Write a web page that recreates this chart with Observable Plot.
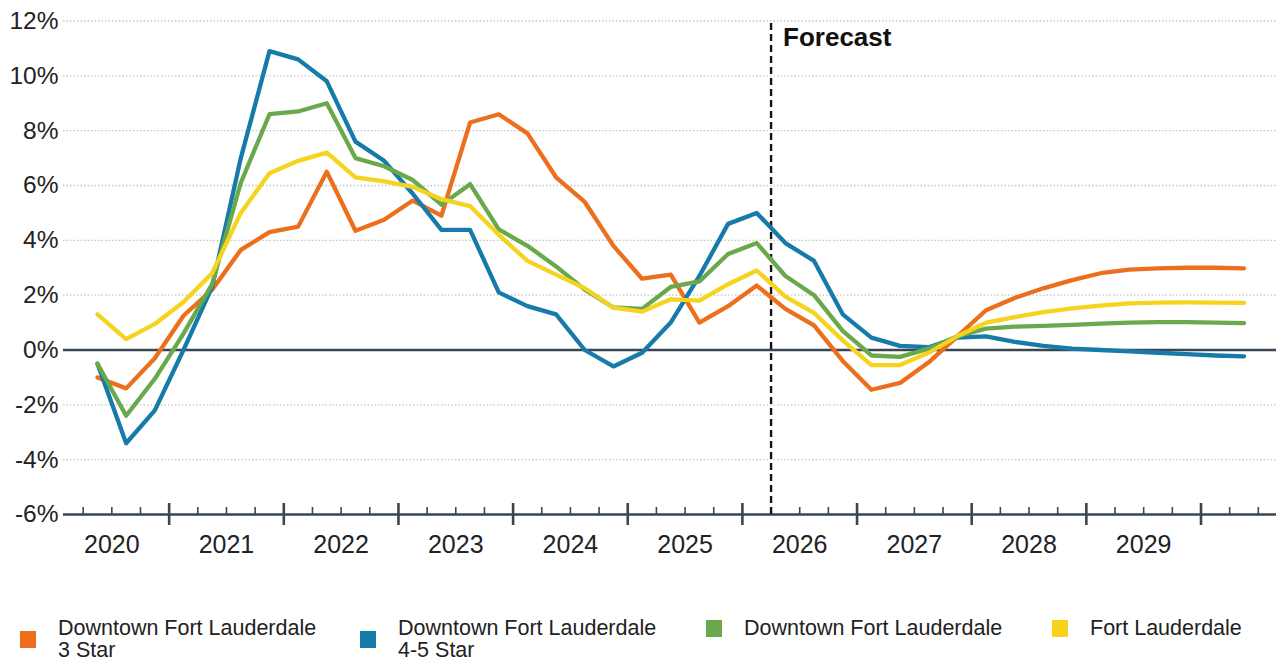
<!DOCTYPE html>
<html><head><meta charset="utf-8">
<script src="https://cdn.jsdelivr.net/npm/d3@7"></script>
<script src="https://cdn.jsdelivr.net/npm/@observablehq/plot@0.6"></script>
<style>
body{margin:0;background:#fff;font-family:"Liberation Sans",Arial,sans-serif;}
#wrap{position:relative;width:1281px;height:665px;overflow:hidden;}
#legend{position:absolute;left:0;top:617px;width:1281px;height:48px;}
.item{position:absolute;top:0;display:flex;align-items:center;}
.sw{width:16px;height:17px;margin-right:22px;flex:none;}
.lab{font-size:21.5px;line-height:22px;color:#222;}
</style></head><body><div id="wrap"><div id="chart"></div><div id="legend"></div></div>
<script>
// Quarterly periods: 2020 Q2 … 2030 Q2 (history through 2026 Q1, forecast after)
const firstYear = 2020, firstQuarter = 2, nPeriods = 41;
const seriesNames = ["Downtown Fort Lauderdale 3 Star", "Downtown Fort Lauderdale 4-5 Star", "Downtown Fort Lauderdale", "Fort Lauderdale"];
const legendLines = [["Downtown Fort Lauderdale", "3 Star"], ["Downtown Fort Lauderdale", "4-5 Star"], ["Downtown Fort Lauderdale"], ["Fort Lauderdale"]];
const seriesColors = ["#EC6F1D", "#177BAA", "#6AA84C", "#F6D31F"];

const star3 = [-1.0, -1.4, -0.3, 1.25, 2.2, 3.65, 4.3, 4.5, 6.5, 4.35, 4.75, 5.45, 4.9, 8.3, 8.6, 7.9, 6.3, 5.4, 3.8, 2.6, 2.75, 1.0, 1.6, 2.35, 1.5, 0.9, -0.4, -1.45, -1.2, -0.45, 0.5, 1.45, 1.9, 2.25, 2.55, 2.8, 2.93, 2.98, 3.0, 3.0, 2.98];
const star45 = [-0.5, -3.4, -2.2, 0.0, 2.3, 7.0, 10.9, 10.6, 9.8, 7.6, 6.9, 5.7, 4.38, 4.38, 2.1, 1.6, 1.3, 0.0, -0.6, -0.1, 1.0, 2.7, 4.6, 5.0, 3.9, 3.25, 1.3, 0.45, 0.15, 0.1, 0.45, 0.5, 0.3, 0.15, 0.05, 0.0, -0.05, -0.1, -0.15, -0.2, -0.23];
const downtown = [-0.5, -2.4, -1.05, 0.6, 2.4, 6.1, 8.6, 8.7, 9.0, 7.0, 6.7, 6.2, 5.3, 6.05, 4.4, 3.8, 3.05, 2.2, 1.55, 1.5, 2.3, 2.5, 3.5, 3.9, 2.7, 2.0, 0.7, -0.2, -0.25, 0.05, 0.5, 0.78, 0.85, 0.88, 0.92, 0.96, 1.0, 1.02, 1.02, 1.0, 0.98];
const fortLauderdale = [1.3, 0.4, 0.95, 1.75, 2.8, 5.0, 6.45, 6.9, 7.2, 6.3, 6.15, 5.95, 5.5, 5.25, 4.2, 3.25, 2.75, 2.25, 1.55, 1.4, 1.85, 1.8, 2.4, 2.9, 1.95, 1.35, 0.35, -0.55, -0.55, -0.1, 0.5, 1.0, 1.2, 1.38, 1.52, 1.62, 1.7, 1.73, 1.74, 1.73, 1.72];

const yTicks = [12, 10, 8, 6, 4, 2, 0, -2, -4, -6];
const gridLevels = [12, 10, 8, 6, 4, 2, -2, -4];
const yearLabels = [2020, 2021, 2022, 2023, 2024, 2025, 2026, 2027, 2028, 2029];
const forecastStart = {year: 2026, quarter: 2};

// periods -> continuous time (middle of the quarter)
const qTime = (y, q) => y + (q - 1) / 4 + 0.125;
const periods = [];
for (let k = 0; k < nPeriods; k++) {
  const idx = (firstQuarter - 1) + k;
  periods.push({year: firstYear + Math.floor(idx / 4), quarter: (idx % 4) + 1});
}
const allValues = [star3, star45, downtown, fortLauderdale];
const data = [];
allValues.forEach((vals, s) => vals.forEach((v, i) => data.push({series: seriesNames[s], t: qTime(periods[i].year, periods[i].quarter), v})));

const xDomain = [2020 + 9 / 114.65, 2020 + 1222 / 114.65];
const majorTicks = d3.range(2021, 2031).filter(d => d >= xDomain[0] && d <= xDomain[1]);
const minorTicks = [];
for (let y = 2020; y <= 2030; y++) for (const f of [0.25, 0.5, 0.75]) if (y + f > xDomain[0] && y + f < xDomain[1]) minorTicks.push(y + f);
const forecastX = forecastStart.year + (forecastStart.quarter - 1) / 4;
const pxPerUnit = (514 - 20.5) / 18;

const chart = Plot.plot({
  width: 1281, height: 560,
  marginLeft: 63, marginRight: 5, marginTop: 20.5, marginBottom: 46,
  style: {fontFamily: "Liberation Sans, Arial, sans-serif", fontSize: "24px", color: "#222", background: "#fff"},
  x: {domain: xDomain, axis: null},
  y: {domain: [-6, 12], axis: null},
  color: {domain: seriesNames, range: seriesColors},
  marks: [
    Plot.ruleY(gridLevels, {stroke: "#c4c4c4", strokeDasharray: "1.5,2", strokeWidth: 1.3}),
    Plot.ruleY([0], {stroke: "#3a4652", strokeWidth: 2.5}),
    Plot.ruleY([-6], {stroke: "#3a4652", strokeWidth: 2.5}),
    Plot.ruleX(minorTicks, {x: d => d, y1: -6, y2: -6 + 7 / pxPerUnit, stroke: "#3a4652", strokeWidth: 1.6}),
    Plot.ruleX(majorTicks, {x: d => d, y1: -6 - 11 / pxPerUnit, y2: -6 + 11 / pxPerUnit, stroke: "#3a4652", strokeWidth: 2.6}),
    Plot.ruleX([forecastX], {x: d => d, y1: -6, y2: 12, stroke: "#151515", strokeWidth: 2.4, strokeDasharray: "7,4"}),
    Plot.line(data, {x: "t", y: "v", z: "series", stroke: "series", strokeWidth: 4.3, strokeLinejoin: "round", strokeLinecap: "round"}),
    Plot.text(yTicks, {x: xDomain[0], y: d => d, text: d => d + "%", textAnchor: "end", dx: -5, fontSize: 24.5, fill: "#222"}),
    Plot.text(yearLabels, {x: d => d + 0.5, y: -6, text: d => String(d), dy: 30, fontSize: 25, fill: "#222"}),
    Plot.text(["Forecast"], {x: forecastX, y: 12, text: d => d, textAnchor: "start", dx: 12, dy: 17, fontSize: 26, fontWeight: "bold", fill: "#111"})
  ]
});
document.getElementById("chart").appendChild(chart);

const legendLeft = [20, 360, 706, 1052];
const leg = document.getElementById("legend");
seriesNames.forEach((name, i) => {
  const item = document.createElement("div");
  item.className = "item";
  item.style.left = legendLeft[i] + "px";
  const sw = document.createElement("div");
  sw.className = "sw";
  sw.style.background = seriesColors[i];
  const lab = document.createElement("div");
  lab.className = "lab";
  lab.innerHTML = legendLines[i].join("<br>");
  item.appendChild(sw); item.appendChild(lab);
  leg.appendChild(item);
});
</script></body></html>
